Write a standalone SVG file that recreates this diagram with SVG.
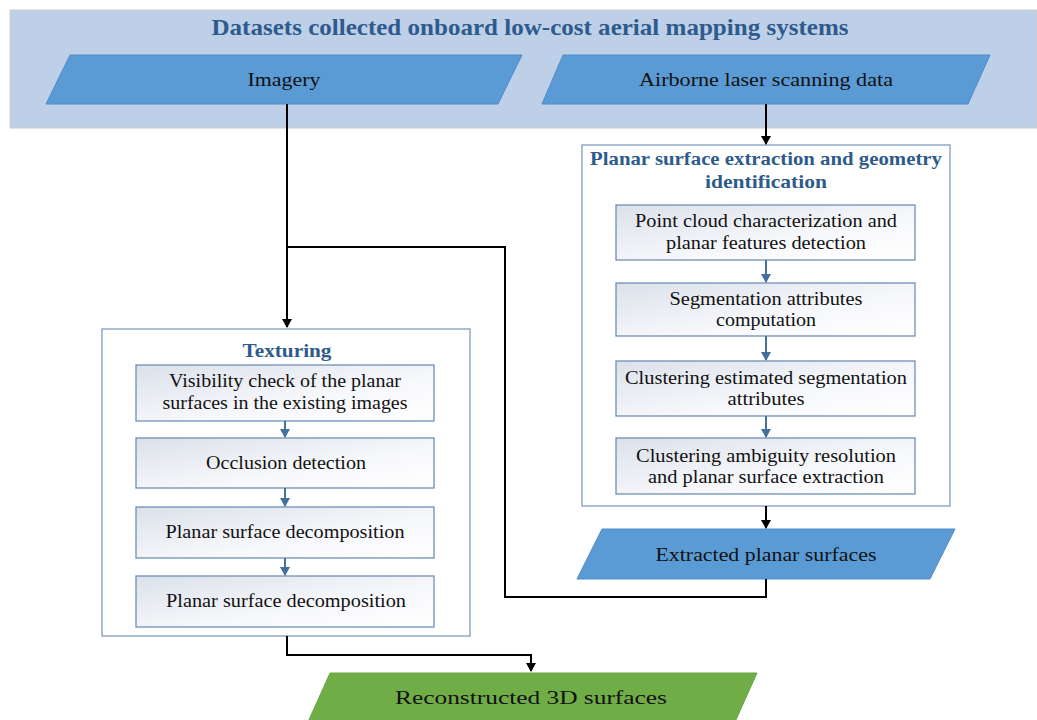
<svg xmlns="http://www.w3.org/2000/svg" width="1037" height="720" viewBox="0 0 1037 720">
<style>
.t{font-family:"Liberation Serif","Times New Roman",serif;fill:#111;text-anchor:middle;font-size:18.5px}
.h{font-family:"Liberation Serif","Times New Roman",serif;fill:#2e5b8c;text-anchor:middle;font-weight:bold}
.para{fill:#5b9bd5;stroke:#4f8ccc;stroke-width:1}
.grp{fill:#fff;stroke:#7f9cc0;stroke-width:1.3}
.box{fill:url(#g);stroke:#6f8fb5;stroke-width:1.3}
.c{fill:none;stroke:#000;stroke-width:2}
.cb{fill:none;stroke:#41719c;stroke-width:2}
</style>
<defs>
<linearGradient id="g" x1="0" y1="0" x2="1" y2="1">
<stop offset="0" stop-color="#dbe1ea"/>
<stop offset="0.6" stop-color="#f7f8fb"/>
<stop offset="1" stop-color="#ffffff"/>
</linearGradient>
<marker id="ab" markerWidth="10" markerHeight="10" refX="8" refY="5" orient="auto" markerUnits="userSpaceOnUse"><path d="M0,0 L9,5 L0,10 z" fill="#000"/></marker>
<marker id="ablue" markerWidth="10" markerHeight="10" refX="8" refY="5" orient="auto" markerUnits="userSpaceOnUse"><path d="M0,0 L9,5 L0,10 z" fill="#41719c"/></marker>
</defs>

<g id="datasets">
<rect x="10" y="10" width="1027" height="118" fill="#bdd0e8" stroke="#cccccc" stroke-width="1"/>
<text class="h" x="530" y="35" font-size="22.5" textLength="637" lengthAdjust="spacingAndGlyphs">Datasets collected onboard low-cost aerial mapping systems</text>
</g>
<g id="imagery">
<polygon class="para" points="70,55 522,55 498,104 46,104"/>
<text class="t" x="284" y="86" font-size="19.5" textLength="73" lengthAdjust="spacingAndGlyphs">Imagery</text>
</g>
<g id="als">
<polygon class="para" points="563,55 990,55 968,104 542,104"/>
<text class="t" x="766" y="86" font-size="19.5" textLength="254" lengthAdjust="spacingAndGlyphs">Airborne laser scanning data</text>
</g>

<g id="planar-group">
<rect class="grp" x="582" y="145" width="368" height="361"/>
<text class="h" x="766" y="165" font-size="19.5" textLength="352" lengthAdjust="spacingAndGlyphs">Planar surface extraction and geometry</text>
<text class="h" x="766" y="188" font-size="19.5" textLength="122" lengthAdjust="spacingAndGlyphs">identification</text>
</g>
<g id="p1">
<rect class="box" x="616" y="205" width="299" height="55"/>
<text class="t" x="766" y="227" textLength="262" lengthAdjust="spacingAndGlyphs">Point cloud characterization and</text>
<text class="t" x="766" y="249" textLength="200" lengthAdjust="spacingAndGlyphs">planar features detection</text>
</g>
<g id="p2">
<rect class="box" x="616" y="283" width="299" height="53"/>
<text class="t" x="766" y="305" textLength="193" lengthAdjust="spacingAndGlyphs">Segmentation attributes</text>
<text class="t" x="766" y="326" textLength="100" lengthAdjust="spacingAndGlyphs">computation</text>
</g>
<g id="p3">
<rect class="box" x="616" y="361" width="299" height="55"/>
<text class="t" x="766" y="384" textLength="282" lengthAdjust="spacingAndGlyphs">Clustering estimated segmentation</text>
<text class="t" x="766" y="405" textLength="77" lengthAdjust="spacingAndGlyphs">attributes</text>
</g>
<g id="p4">
<rect class="box" x="616" y="438" width="299" height="56"/>
<text class="t" x="766" y="462" textLength="260" lengthAdjust="spacingAndGlyphs">Clustering ambiguity resolution</text>
<text class="t" x="766" y="483" textLength="236" lengthAdjust="spacingAndGlyphs">and planar surface extraction</text>
</g>
<g id="extracted">
<polygon class="para" points="602,529 955,529 930,579 577,579"/>
<text class="t" x="766" y="561" font-size="20" textLength="221" lengthAdjust="spacingAndGlyphs">Extracted planar surfaces</text>
</g>

<g id="texturing-group">
<rect class="grp" x="102" y="329" width="368" height="307"/>
<text class="h" x="287" y="357" font-size="19.5" textLength="89" lengthAdjust="spacingAndGlyphs">Texturing</text>
</g>
<g id="t1">
<rect class="box" x="136" y="365" width="298" height="56"/>
<text class="t" x="285" y="387" textLength="232" lengthAdjust="spacingAndGlyphs">Visibility check of the planar</text>
<text class="t" x="285" y="409" textLength="245" lengthAdjust="spacingAndGlyphs">surfaces in the existing images</text>
</g>
<g id="t2">
<rect class="box" x="136" y="438" width="298" height="50"/>
<text class="t" x="286" y="469" textLength="160" lengthAdjust="spacingAndGlyphs">Occlusion detection</text>
</g>
<g id="t3">
<rect class="box" x="136" y="507" width="298" height="51"/>
<text class="t" x="285" y="538" textLength="239" lengthAdjust="spacingAndGlyphs">Planar surface decomposition</text>
</g>
<g id="t4">
<rect class="box" x="136" y="576" width="298" height="51"/>
<text class="t" x="286" y="607" font-size="17.5" textLength="240" lengthAdjust="spacingAndGlyphs">Planar surface decomposition</text>
</g>

<g id="reconstructed">
<polygon points="330,673 757,673 735,722 308,722" fill="#70ad47" stroke="#6aa443" stroke-width="1"/>
<text class="t" x="531" y="704" font-size="22" textLength="272" lengthAdjust="spacingAndGlyphs">Reconstructed 3D surfaces</text>
</g>

<g id="connectors">
<path class="c" d="M287,104 V327" marker-end="url(#ab)"/>
<path class="c" d="M766,104 V144" marker-end="url(#ab)"/>
<path class="c" d="M766,506 V528" marker-end="url(#ab)"/>
<path class="c" d="M766,579 V597 H505 V247 H287"/>
<path class="c" d="M287,636 V655 H531 V671" marker-end="url(#ab)"/>
<path class="cb" d="M766,260 V282" marker-end="url(#ablue)"/>
<path class="cb" d="M766,336 V360" marker-end="url(#ablue)"/>
<path class="cb" d="M766,416 V437" marker-end="url(#ablue)"/>
<path class="cb" d="M285,421 V437" marker-end="url(#ablue)"/>
<path class="cb" d="M285,488 V506" marker-end="url(#ablue)"/>
<path class="cb" d="M285,558 V575" marker-end="url(#ablue)"/>
</g>
</svg>
